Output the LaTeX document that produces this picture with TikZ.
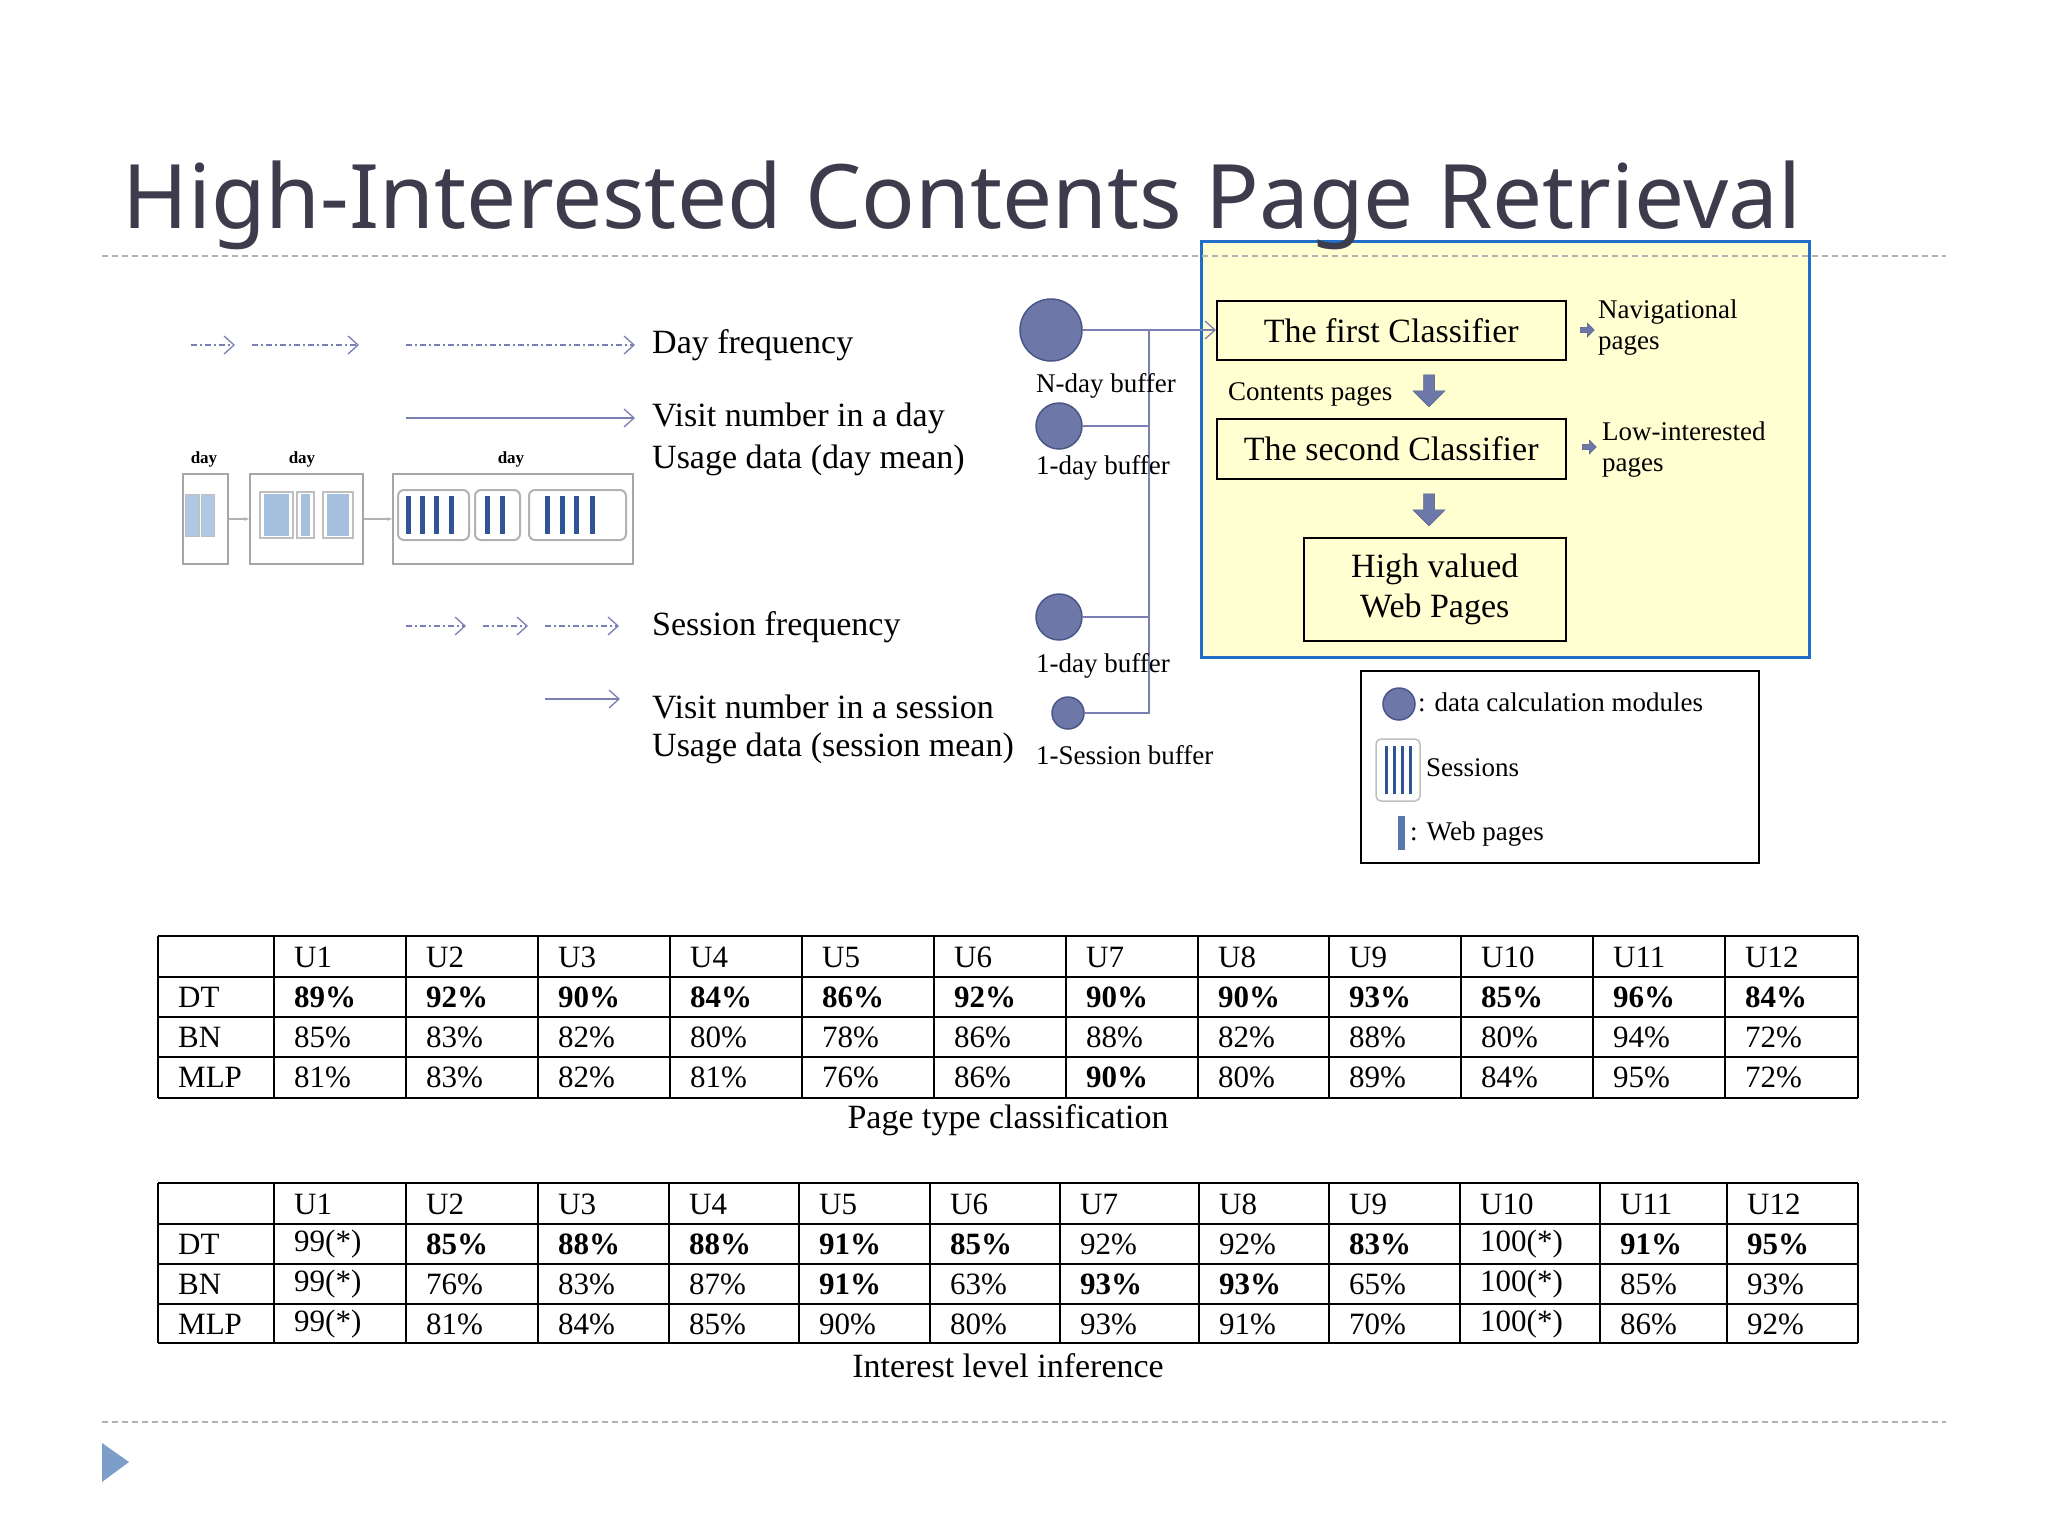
\documentclass[tikz,border=0pt]{standalone}
\usepackage{fontspec}
\setmainfont{Liberation Serif}
\newfontfamily\titlefont{Noto Sans}
\usetikzlibrary{arrows.meta,shapes.arrows}
\definecolor{circ}{HTML}{6E78A8}
\definecolor{circb}{HTML}{4A5588}
\definecolor{ln}{HTML}{7A80B4}
\definecolor{ybox}{HTML}{FFFFD2}
\definecolor{bbox}{HTML}{1F6FC8}
\definecolor{ttl}{HTML}{3C3C4C}
\definecolor{bar}{HTML}{2F5597}
\definecolor{lbar}{HTML}{8FB0D6}
\tikzset{
  txt/.style={font=\fontsize{34}{38}\selectfont, anchor=west, inner sep=0},
  sml/.style={font=\fontsize{27}{31}\selectfont, anchor=west, inner sep=0},
  cls/.style={draw=black, line width=1.5pt, fill=ybox, font=\fontsize{34}{40}\selectfont, align=center, inner sep=0},
  mod/.style={circle, fill=circ, draw=circb, line width=1.5pt, inner sep=0},
  conn/.style={draw=ln, line width=1.3pt},
  arr/.style={draw=ln, line width=1.3pt, -{Straight Barb[length=10pt,width=18pt]}},
  darr/.style={arr, dash pattern=on 6pt off 3pt on 2pt off 3pt},
  dnarr/.style={single arrow, fill=circ, draw=circb, shape border rotate=270, minimum height=32pt, minimum width=32pt, single arrow head extend=6pt, inner sep=3pt},
  rarr/.style={single arrow, fill=circ, draw=circb, minimum height=14pt, minimum width=14pt, single arrow head extend=2pt, inner sep=1pt},
  cell/.style={font=\fontsize{31}{34}\selectfont, anchor=west, inner sep=0},
  tline/.style={line width=1.5pt},
  daybox/.style={draw=gray!70, line width=2pt, fill=white},
  sess/.style={draw=gray!60, line width=2pt, rounded corners=6pt, fill=white},
  sep/.style={gray!60, line width=1.3pt, dash pattern=on 6pt off 4pt},
}
\begin{document}
\begin{tikzpicture}[x=1pt,y=-1pt]
\useasboundingbox (0,0) rectangle (2048,1536);
\fill[white] (0,0) rectangle (2048,1536);
% yellow box
\node[draw=bbox, line width=2.5pt, fill=ybox, minimum width=608pt, minimum height=416pt, anchor=north west, inner sep=0] (yb) at (1200,240) {};
% title and separators
\draw[sep] (102,256) -- (1946,256);
\draw[sep] (102,1422) -- (1946,1422);
\node[anchor=base west, inner sep=0, text=ttl, font=\titlefont\fontsize{89}{100}\selectfont] (title) at (122,228) {High-Interested Contents Page Retrieval};
\fill[lbar!80!bar] (102,1443) -- (129,1462) -- (102,1482) -- cycle;
\node[cls, minimum width=349pt, minimum height=59pt, anchor=north west] (c1) at (1216,300) {The first Classifier};
\node[cls, minimum width=349pt, minimum height=60pt, anchor=north west] (c2) at (1216,418) {The second Classifier};
\node[cls, minimum width=262pt, minimum height=103pt, anchor=north west] (hv) at (1303,537) {High valued\\Web Pages};
\node[rarr] (ra1) at (1586,330) {};
\node[rarr] (ra2) at (1588,447) {};
\node[sml, align=left, anchor=north west] (nav) at (1598,300) {Navigational\\pages};
\node[sml, align=left, anchor=north west] (low) at (1602,422) {Low-interested\\pages};
\node[sml] (cp) at (1228,394) {Contents pages};
\node[dnarr] (d1) at (1429,388) {};
\node[dnarr] (d2) at (1429,507) {};
% modules
\node[mod, minimum size=62pt] (m1) at (1051,330) {};
\node[mod, minimum size=46pt] (m2) at (1059,426) {};
\node[mod, minimum size=46pt] (m3) at (1059,617) {};
\node[mod, minimum size=32pt] (m4) at (1068,713) {};
\coordinate (v1) at (1149,330);
\coordinate (v4) at (1149,713);
\draw[conn] (m1.east) -- (v1);
\draw[conn] (m2.east) -- (m2.east -| v1);
\draw[conn] (m3.east) -- (m3.east -| v1);
\draw[conn] (m4.east) -- (v4) -- (v1);
\draw[arr] (v1) -- (c1.west |- v1);
\node[sml] (b1) at (1036,386) {N-day buffer};
\node[sml] (b2) at (1036,468) {1-day buffer};
\node[sml] (b3) at (1036,666) {1-day buffer};
\node[sml] (b4) at (1036,755) {1-Session buffer};
% left texts
\node[txt] (t1) at (652,345) {Day frequency};
\node[txt] (t2) at (652,418) {Visit number in a day};
\node[txt] (t3) at (652,460) {Usage data (day mean)};
\node[txt] (t4) at (652,627) {Session frequency};
\node[txt] (t5) at (652,707) {Visit number in a session};
\node[txt] (t6) at (652,748) {Usage data (session mean)};
\coordinate (a1) at (191,345); \coordinate (a2) at (235,345);
\coordinate (a3) at (252,345); \coordinate (a4) at (359,345);
\coordinate (a5) at (406,345); \coordinate (a6) at (635,345);
\draw[darr] (a1) -- (a2); \draw[darr] (a3) -- (a4); \draw[darr] (a5) -- (a6);
\coordinate (s1) at (406,418); \coordinate (s2) at (635,418);
\draw[arr] (s1) -- (s2);
\coordinate (e1) at (406,626); \coordinate (e2) at (466,626);
\coordinate (e3) at (483,626); \coordinate (e4) at (528,626);
\coordinate (e5) at (545,626); \coordinate (e6) at (619,626);
\draw[darr] (e1) -- (e2); \draw[darr] (e3) -- (e4); \draw[darr] (e5) -- (e6);
\coordinate (f1) at (545,699); \coordinate (f2) at (620,699);
\draw[arr] (f1) -- (f2);
% day boxes
\node[daybox, minimum width=45pt, minimum height=90pt, anchor=north west, inner sep=0] (db1) at (182,473) {};
\node[daybox, minimum width=113pt, minimum height=90pt, anchor=north west, inner sep=0] (db2) at (249,473) {};
\node[daybox, minimum width=240pt, minimum height=90pt, anchor=north west, inner sep=0] (db3) at (392,473) {};
\foreach \x/\n in {204/1,302/2,511/3}
  \node[font=\bfseries\fontsize{17}{18}\selectfont, inner sep=0] (dl\n) at (\x,459) {day};
\draw[gray!60, line width=1.5pt, -{Stealth[length=5pt]}] (db1.east) -- (db2.west);
\draw[gray!60, line width=1.5pt, -{Stealth[length=5pt]}] (db2.east) -- (db3.west);
\foreach \a/\b in {185/199,201/214} {
  \fill[lbar!70] (\a,494) rectangle (\b,536);
  \draw[gray!50, line width=1pt] (\a,494) rectangle (\b,536);
}
\foreach \a/\b in {260/293,297/314,323/353} {
  \fill[lbar!80] (\a+4,494) rectangle (\b-4,536);
  \draw[gray!50, line width=1.5pt] (\a,492) rectangle (\b,538);
}
\foreach \a/\b in {398/469,475/520,529/626}
  \draw[sess] (\a,490) rectangle (\b,540);
\foreach \x in {406,420,434,449,485,500,545,560,574,590}
  \fill[bar] (\x,496) rectangle (\x+5,534);
% legend
\node[draw=black, line width=1.5pt, minimum width=398pt, minimum height=192pt, anchor=north west, inner sep=0] (lg) at (1360,670) {};
\node[mod, minimum size=32pt] (lc) at (1399,704) {};
\node[sml] (lt1) at (1418,702) {: data calculation modules};
\draw[draw=gray!50, line width=1.5pt, rounded corners=5pt, fill=white] (1376,739) rectangle (1420,801);
\foreach \x in {1385,1393,1401,1409} \fill[bar] (\x,746) rectangle (\x+3,794);
\node[sml] (lt2) at (1426,768) {Sessions};
\fill[bar!80] (1398,816) rectangle (1405,850);
\node[sml] (lt3) at (1410,834) {: Web pages};
% tables
\def\colsA{158,274,406,538,670,802,934,1066,1198,1329,1461,1593,1725,1858}
\def\colsB{158,274,406,538,669,799,930,1060,1199,1329,1460,1600,1727,1858}
\foreach \y in {936,977,1017,1057,1098} \draw[tline] (158,\y) -- (1858,\y);
\foreach \x in {158,274,406,538,670,802,934,1066,1198,1329,1461,1593,1725,1858} \draw[tline] (\x,936) -- (\x,1098);
\foreach \y in {1183,1224,1264,1304,1343} \draw[tline] (158,\y) -- (1858,\y);
\foreach \x in {158,274,406,538,669,799,930,1060,1199,1329,1460,1600,1727,1858} \draw[tline] (\x,1183) -- (\x,1343);
\foreach \t [count=\i] in {U1,U2,U3,U4,U5,U6,U7,U8,U9,U10,U11,U12} {
  \pgfmathsetmacro\xx{{\colsA}[\i]+20}
  \node[cell] (ha\i) at (\xx,957) {\t};
  \pgfmathsetmacro\xb{{\colsB}[\i]+20}
  \node[cell] (hb\i) at (\xb,1204) {\t};
}
\foreach \t [count=\r] in {DT,BN,MLP} {
  \node[cell] (ra\r) at (178,957+40*\r) {\t};
  \node[cell] (rb\r) at (178,1204+40*\r) {\t};
}
\foreach \row/\vals in {1/{\textbf{89\%},\textbf{92\%},\textbf{90\%},\textbf{84\%},\textbf{86\%},\textbf{92\%},\textbf{90\%},\textbf{90\%},\textbf{93\%},\textbf{85\%},\textbf{96\%},\textbf{84\%}},
  2/{85\%,83\%,82\%,80\%,78\%,86\%,88\%,82\%,88\%,80\%,94\%,72\%},
  3/{81\%,83\%,82\%,81\%,76\%,86\%,\textbf{90\%},80\%,89\%,84\%,95\%,72\%}} {
  \foreach \v [count=\i] in \vals {
    \pgfmathsetmacro\xx{{\colsA}[\i]+20}
    \node[cell] (va\row-\i) at (\xx,957+40*\row) {\v};
  }
}
\foreach \row/\vals in {1/{99(*),\textbf{85\%},\textbf{88\%},\textbf{88\%},\textbf{91\%},\textbf{85\%},92\%,92\%,\textbf{83\%},100(*),\textbf{91\%},\textbf{95\%}},
  2/{99(*),76\%,83\%,87\%,\textbf{91\%},63\%,\textbf{93\%},\textbf{93\%},65\%,100(*),85\%,93\%},
  3/{99(*),81\%,84\%,85\%,90\%,80\%,93\%,91\%,70\%,100(*),86\%,92\%}} {
  \foreach \v [count=\i] in \vals {
    \pgfmathsetmacro\xx{{\colsB}[\i]+20}
    \node[cell] (vb\row-\i) at (\xx,1204+40*\row) {\v};
  }
}
\node[font=\fontsize{34}{38}\selectfont, inner sep=0] (cap1) at (1008,1120) {Page type classification};
\node[font=\fontsize{34}{38}\selectfont, inner sep=0] (cap2) at (1008,1366) {Interest level inference};
\end{tikzpicture}
\end{document}
